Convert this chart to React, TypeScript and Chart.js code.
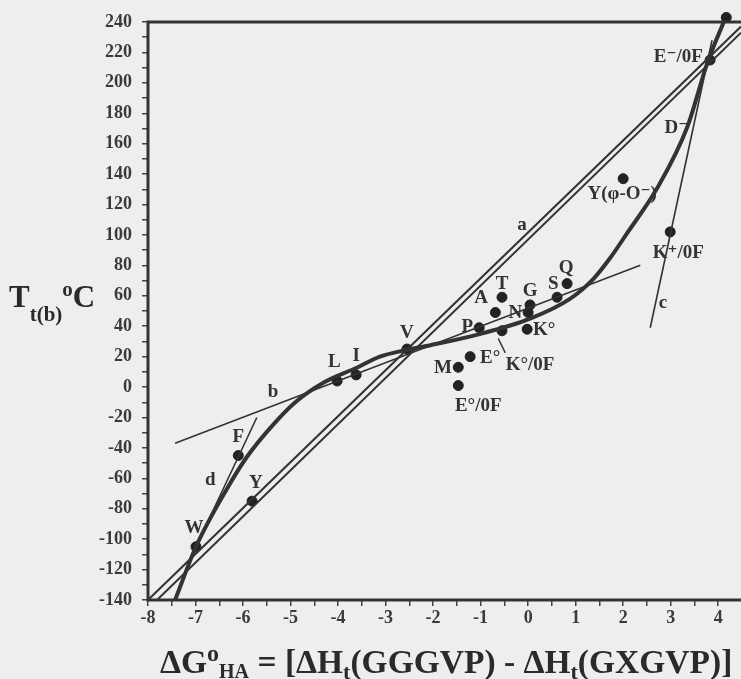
import React, { useEffect, useRef } from "react";
import { Chart, registerables } from "chart.js";

Chart.register(...registerables);

// ---- axis ranges / ticks ----
const X_MIN = -8;
const X_MAX = 4.48;
const Y_MIN = -140;
const Y_MAX = 240;
const X_STEP = 0.5;
const Y_STEP = 10;
const Y_LABEL_EVERY = 20;

// ---- straight lines (a: double line, b, c, d) ----
const lineA1X = [-8, 4.48];
const lineA1Y = [-140, 237];
const lineA2X = [-7.81, 4.48];
const lineA2Y = [-140, 233];
const lineBX = [-7.43, 2.36];
const lineBY = [-37, 80];
const lineCX = [2.57, 3.87];
const lineCY = [39, 228];
const lineDX = [-6.99, -5.71];
const lineDY = [-105, -20];

// ---- thick sigmoid curve ----
const curveX = [-7.43, -6.99, -6.34, -5.92, -5.43, -4.9, -4.3, -3.62, -3.12, -2.55, -2.06, -1.0, 0.04, 0.88, 1.37, 1.73, 2.08, 2.72, 3.35, 3.77, 4.17];
const curveY = [-140, -105, -67, -46, -27, -10, 3, 12.5, 20, 24.5, 27.5, 35, 45, 58, 71, 85, 101, 131, 171, 213, 244];

// ---- data points ----
const pointNames = ["W", "Y", "F", "L", "I", "V", "M", "E°/0F", "E°", "P", "A", "T", "K°/0F", "K°", "N", "G", "S", "Q", "Y(φ-O⁻)", "K⁺/0F", "E⁻/0F", "top"];
const pointX = [-6.99, -5.81, -6.1, -4.02, -3.62, -2.55, -1.47, -1.47, -1.22, -1.03, -0.69, -0.55, -0.55, -0.02, 0.0, 0.04, 0.61, 0.82, 2.0, 2.99, 3.83, 4.17];
const pointY = [-105, -75, -45, 4, 8, 25, 13, 1, 20, 39, 49, 59, 37, 38, 49, 54, 59, 68, 137, 102, 215, 243];

// ---- arrow from K°/0F label to its point ----
const arrowX = [-0.48, -0.63];
const arrowY = [22.5, 32];

// ---- text labels (data coordinates of label centre) ----
const labelText = ["T", "A", "P", "N", "G", "S", "Q", "K°", "K°/0F", "E°", "M", "E°/0F", "V", "L", "I", "F", "W", "Y", "Y(φ-O⁻)", "K⁺/0F", "D⁻", "E⁻/0F", "a", "b", "c", "d"];
const labelX = [-0.55, -0.99, -1.28, -0.27, 0.04, 0.53, 0.8, 0.34, 0.04, -0.8, -1.79, -1.05, -2.55, -4.08, -3.62, -6.1, -7.03, -5.73, 1.98, 3.16, 3.12, 3.16, -0.13, -5.37, 2.84, -6.69];
const labelY = [68, 58.5, 39.4, 48.7, 63, 68, 78, 37.5, 14.5, 19, 12.5, -12.5, 35.5, 16.4, 20.4, -33, -93, -63, 127, 88, 170, 217, 106.5, -3.3, 55, -61];

const INK = "#333333";
const SERIF = '"Liberation Serif", "DejaVu Serif", serif';

const pts = (xs: number[], ys: number[]) => xs.map((x, i) => ({ x, y: ys[i] }));

type Seg = { t: string; size: number; dy: number };

function drawSegs(ctx: CanvasRenderingContext2D, segs: Seg[], x0: number, base: number) {
  let x = x0;
  ctx.textAlign = "left";
  ctx.textBaseline = "alphabetic";
  for (const s of segs) {
    ctx.font = `bold ${s.size}px ${SERIF}`;
    ctx.fillText(s.t, x, base + s.dy);
    x += ctx.measureText(s.t).width;
  }
}

const decorPlugin = {
  id: "decor",
  beforeDraw(chart: any) {
    const ctx = chart.ctx;
    ctx.save();
    ctx.fillStyle = "#eeeeee";
    ctx.fillRect(0, 0, chart.width, chart.height);
    ctx.restore();
  },
  afterDatasetsDraw(chart: any) {
    const ctx = chart.ctx as CanvasRenderingContext2D;
    const xs = chart.scales.x;
    const ys = chart.scales.y;
    const { left, top, bottom } = chart.chartArea;
    ctx.save();
    // frame
    ctx.strokeStyle = INK;
    ctx.lineWidth = 3;
    ctx.beginPath();
    ctx.moveTo(chart.width, top);
    ctx.lineTo(left, top);
    ctx.lineTo(left, bottom);
    ctx.lineTo(chart.width, bottom);
    ctx.stroke();

    // point / curve labels
    ctx.fillStyle = INK;
    ctx.font = `bold 19px ${SERIF}`;
    ctx.textAlign = "center";
    ctx.textBaseline = "middle";
    labelText.forEach((t, i) => {
      ctx.fillText(t, xs.getPixelForValue(labelX[i]), ys.getPixelForValue(labelY[i]));
    });

    // y axis title: T_t(b) °C
    ctx.fillStyle = "#2a2a2a";
    drawSegs(
      ctx,
      [
        { t: "T", size: 31, dy: 0 },
        { t: "t(b)", size: 21, dy: 14 },
        { t: "o", size: 21, dy: -11 },
        { t: "C", size: 31, dy: 0 },
      ],
      9,
      307
    );

    // x axis title
    drawSegs(
      ctx,
      [
        { t: "ΔG", size: 33.5, dy: 0 },
        { t: "o", size: 24, dy: -12 },
        { t: "HA", size: 20, dy: 5 },
        { t: " = [ΔH", size: 33.5, dy: 0 },
        { t: "t", size: 22, dy: 6 },
        { t: "(GGGVP) - ΔH", size: 33.5, dy: 0 },
        { t: "t", size: 22, dy: 6 },
        { t: "(GXGVP)]", size: 33.5, dy: 0 },
      ],
      160,
      673
    );
    ctx.restore();
  },
};

export default function App() {
  const ref = useRef<HTMLCanvasElement | null>(null);

  useEffect(() => {
    if (!ref.current) return;
    const thin = (xs: number[], ys: number[], w: number) => ({
      data: pts(xs, ys),
      showLine: true,
      borderColor: INK,
      borderWidth: w,
      pointRadius: 0,
      fill: false,
    });
    const chart = new Chart(ref.current, {
      type: "scatter",
      data: {
        datasets: [
          thin(lineA1X, lineA1Y, 2),
          thin(lineA2X, lineA2Y, 2),
          thin(lineBX, lineBY, 1.6),
          thin(lineCX, lineCY, 1.6),
          thin(lineDX, lineDY, 1.6),
          thin(arrowX, arrowY, 1.4),
          {
            data: pts(curveX, curveY),
            showLine: true,
            borderColor: INK,
            borderWidth: 4,
            pointRadius: 0,
            cubicInterpolationMode: "monotone",
            fill: false,
          },
          {
            data: pts(pointX, pointY),
            showLine: false,
            pointRadius: 5,
            pointBackgroundColor: "#222222",
            pointBorderColor: "#222222",
            clip: false,
          },
        ] as any,
      },
      options: {
        animation: false,
        responsive: false,
        events: [],
        layout: { autoPadding: false, padding: { top: 22, left: 0, right: 0, bottom: 0 } },
        plugins: { legend: { display: false }, tooltip: { enabled: false } },
        scales: {
          x: {
            type: "linear",
            min: X_MIN,
            max: X_MAX,
            border: { display: false },
            grid: { drawOnChartArea: false, drawTicks: true, tickLength: 6, color: "#444444", lineWidth: 1.5 },
            ticks: {
              stepSize: X_STEP,
              includeBounds: false,
              autoSkip: false,
              maxRotation: 0,
              padding: 2,
              color: "#3a3a3a",
              font: { family: SERIF, size: 18, weight: "bold" },
              callback: (v: any) => (Number.isInteger(v) ? String(v) : ""),
            },
            afterFit: (s: any) => {
              s.height = 79;
              s.paddingLeft = 0;
              s.paddingRight = 0;
            },
          },
          y: {
            type: "linear",
            min: Y_MIN,
            max: Y_MAX,
            border: { display: false },
            grid: { drawOnChartArea: false, drawTicks: true, tickLength: 6, color: "#444444", lineWidth: 1.5 },
            ticks: {
              stepSize: Y_STEP,
              autoSkip: false,
              padding: 10,
              color: "#3a3a3a",
              font: { family: SERIF, size: 18, weight: "bold" },
              callback: (v: any) => (v % Y_LABEL_EVERY === 0 ? String(v) : ""),
            },
            afterFit: (s: any) => {
              s.width = 148;
              s.paddingTop = 0;
              s.paddingBottom = 0;
            },
          },
        },
      } as any,
      plugins: [decorPlugin],
    });
    return () => chart.destroy();
  }, []);

  return (
    <div style={{ position: "absolute", left: 0, top: 0, width: 741, height: 679, background: "#eeeeee" }}>
      <canvas ref={ref} width={741} height={679} style={{ display: "block", width: 741, height: 679 }} />
    </div>
  );
}
